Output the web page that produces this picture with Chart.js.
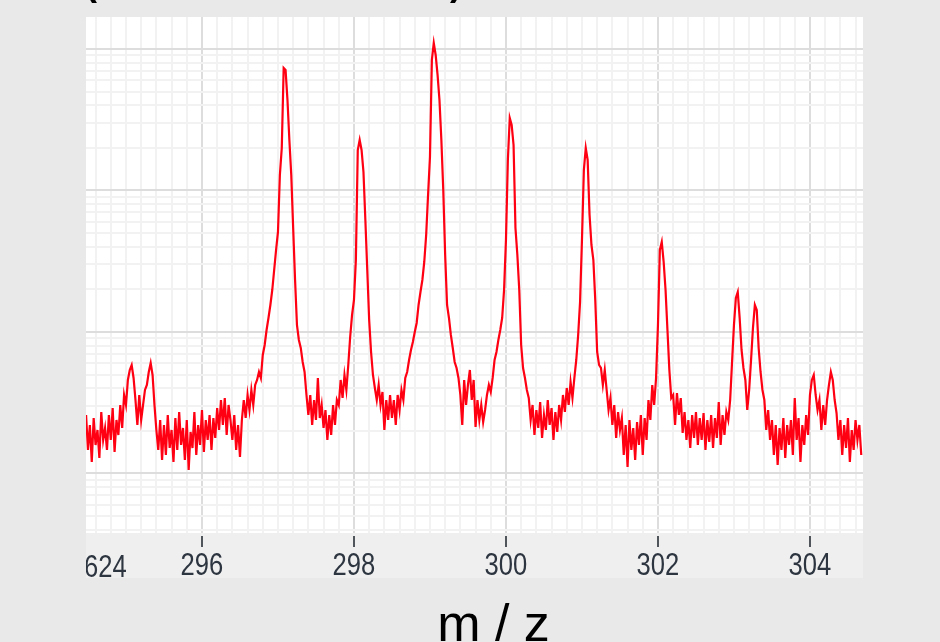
<!DOCTYPE html>
<html><head><meta charset="utf-8">
<script src="https://cdn.jsdelivr.net/npm/chart.js@4.4.1/dist/chart.umd.min.js"></script>
<style>
html,body{margin:0;padding:0;background:#e9e9e9;overflow:hidden}
#wrap{position:relative;width:940px;height:642px}
canvas{display:block}
</style></head>
<body><div id="wrap"><canvas id="c" width="940" height="642"></canvas></div>
<script>
// m/z sampling of the trace
const mzStart = 294.475;
const mzStep = 0.025;
// intensity (counts), one per m/z sample
const intensity = [
2591,1466,2202,1206,2467,1590,2030,1287,2720,1725,
2097,1466,2591,1725,2903,1419,2388,1871,3049,2097,
3588,3049,4580,5389,5846,4731,3307,2202,3588,2388,
3049,3892,4222,5216,6039,4968,3049,2030,1466,2388,
1246,2202,1351,2591,1514,2030,1206,2467,1466,2720,
1590,2097,1246,2388,1059,1965,1514,2720,1351,2202,
1590,2810,1419,2388,1725,2591,1466,2467,1782,2903,
2030,3307,2202,3416,1871,3049,2388,1725,2591,1466,
2202,1308,2388,3307,2467,3588,2810,3892,3049,4222,
4580,5216,4731,6880,8096,10330,12560,15520,19810,27430,
37980,50900,128700,199700,734300,710800,436200,227500,128700,54320,
23310,11200,8782,7710,6138,5216,3588,2591,3588,2202,
3307,2388,4731,2467,3049,2097,2810,1725,2591,1871,
3049,2202,3307,3049,4580,3416,4968,3892,5846,9220,
13200,16840,32280,193300,227500,193300,135100,61880,27430,12160,
7220,4968,4021,3307,4222,3049,3767,2030,3307,2388,
3588,2467,3307,2202,3588,2810,3892,3307,4731,5216,
6342,7463,8500,10000,11580,15520,19170,23310,31240,48480,
92950,172500,836400,1103000,907400,655300,436200,227500,100800,35020,
15520,12560,9527,7710,6138,5567,4731,3588,2202,4580,
3049,4222,5389,3307,4580,2131,3307,2388,3049,2312,
2810,3588,4222,3767,4731,6342,7220,8782,10330,12560,
19810,44690,164300,325400,290400,209700,54320,35020,19810,8096,
5567,4731,3892,3416,2388,3049,1871,2810,2097,3201,
1782,2591,2030,3307,2202,2903,1725,2720,1965,3049,
2388,3588,2720,4021,3049,4433,3416,4731,6342,9527,
16300,44690,139600,199700,164300,67130,41200,32280,16840,7220,
5846,5567,4222,5389,3892,2810,3416,2202,3049,1782,
2720,2030,2467,1351,2202,1112,2388,1466,2097,1246,
2312,1590,2591,1351,2467,1725,3307,2388,4222,3049,
4731,11200,37980,43280,31240,19810,10330,5389,3416,3588,
2202,3707,2591,3416,1933,2720,1725,2388,1514,2591,
1782,2720,1590,2467,1725,2676,1466,2388,1670,2591,
1514,2467,1782,3201,1590,2591,1871,2720,2388,3307,
6138,11200,17400,19170,12560,7463,5567,4580,2810,3892,
6342,10670,15520,14300,7710,5216,3892,3307,2030,2810,
1725,2388,1351,2202,1148,2097,1466,2467,1287,2202,
1590,2388,1351,3416,1725,2467,1206,2202,1590,2591,
1871,3588,4580,4968,3588,2810,3307,2030,3049,2202,
3307,4222,5216,4580,3307,2676,1725,2388,1351,2202,
1514,2467,1206,2030,1466,2388,1725,2202,1351
];
// axes
const xMin = 294.474, xMax = 304.698;
const yMin = 379.7, yMax = 1683000;
const xMajorTicks = [296, 298, 300, 302, 304];
const xTickLabels = ['296', '298', '300', '302', '304'];
const xMinorStep = 0.2;
const yDecades = [100, 1000, 10000, 100000, 1000000];
const xTitle = 'm / z';
const cutTickLabel = '624';
const cutTitleParts = ['(', ')'];

const points = intensity.map((v, i) => ({ x: mzStart + i * mzStep, y: v }));

const isMajorX = v => xMajorTicks.some(m => Math.abs(m - v) < 1e-6);
const isDecade = v => yDecades.some(d => Math.abs(d - v) / d < 1e-6);
const labelFont = "'Liberation Sans', Arial, sans-serif";
const labelSqueeze = 0.8;
const labelColor = '#2d3540';

const decor = {
  id: 'decor',
  beforeDraw(chart) {
    const { ctx, chartArea: a } = chart;
    const xs = chart.scales.x;
    if (!xs._squeezed) {
      const orig = xs.drawLabels.bind(xs);
      xs.drawLabels = function (area) {
        const c = this.ctx;
        const ft = c.fillText;
        c.fillText = function (t, x, y) {
          this.save(); this.translate(x, y); this.scale(labelSqueeze, 1);
          ft.call(this, t, 0, 0); this.restore();
        };
        try { orig(area); } finally { delete c.fillText; }
      };
      xs._squeezed = true;
    }
    ctx.save();
    ctx.fillStyle = '#e9e9e9';
    ctx.fillRect(0, 0, chart.width, chart.height);
    ctx.fillStyle = '#ffffff';
    ctx.fillRect(a.left, a.top, a.right - a.left, a.bottom - a.top);
    ctx.fillStyle = '#efefef';
    ctx.fillRect(a.left, a.bottom, a.right - a.left, 45);
    ctx.restore();
  },
  afterDraw(chart) {
    const { ctx, chartArea: a } = chart;
    const xs = chart.scales.x;
    ctx.save();
    // tick marks
    ctx.fillStyle = '#50555c';
    xMajorTicks.forEach(v => {
      const px = Math.round(xs.getPixelForValue(v));
      ctx.fillRect(px - 1, a.bottom + 3, 2, 11);
    });
    // clipped left label
    ctx.save();
    ctx.beginPath();
    ctx.rect(a.left, a.bottom, 60, 45);
    ctx.clip();
    ctx.fillStyle = labelColor;
    ctx.font = "32px " + labelFont;
    ctx.textAlign = 'left';
    ctx.textBaseline = 'alphabetic';
    ctx.translate(a.left - 2, a.bottom + 44);
    ctx.scale(labelSqueeze, 1);
    ctx.fillText(cutTickLabel, 0, 0);
    ctx.restore();
    // axis title
    ctx.fillStyle = '#000';
    ctx.font = "52px 'Liberation Sans', Arial, sans-serif";
    ctx.textAlign = 'center';
    ctx.textBaseline = 'alphabetic';
    ctx.fillText(xTitle, 493.5, 641);
    // cut-off header glyphs
    ctx.font = "bold 36px 'Liberation Sans', Arial, sans-serif";
    ctx.textAlign = 'left';
    ctx.fillText(cutTitleParts[0], 85, -5);
    ctx.fillText(cutTitleParts[1], 450, -5);
    ctx.restore();
  }
};

new Chart(document.getElementById('c'), {
  type: 'line',
  data: {
    datasets: [{
      data: points,
      borderColor: 'rgb(255,0,18)',
      borderWidth: 2.2,
      pointRadius: 0,
      tension: 0,
      fill: false
    }]
  },
  options: {
    responsive: false,
    devicePixelRatio: 1,
    animation: false,
    events: [],
    layout: { padding: { left: 86, right: 77, top: 17, bottom: 0 } },
    plugins: { legend: { display: false }, tooltip: { enabled: false } },
    scales: {
      x: {
        type: 'linear',
        min: xMin, max: xMax,
        afterBuildTicks: s => {
          const t = [];
          for (let v = Math.ceil(xMin / xMinorStep) * xMinorStep; v <= xMax + 1e-9; v += xMinorStep) {
            t.push({ value: Math.round(v * 1000) / 1000 });
          }
          s.ticks = t;
        },
        afterFit: s => { s.height = 109; },
        border: { display: false },
        grid: {
          drawTicks: false,
          lineWidth: 2,
          color: c => (c.tick && isMajorX(c.tick.value)) ? '#dddddd' : '#f2f2f2'
        },
        ticks: {
          autoSkip: false, maxRotation: 0, minRotation: 0,
          padding: 17,
          color: labelColor,
          font: { family: labelFont, size: 32, lineHeight: 1 },
          callback: v => {
            const k = xMajorTicks.findIndex(m => Math.abs(m - v) < 1e-6);
            return k >= 0 ? xTickLabels[k] : '';
          }
        }
      },
      y: {
        type: 'logarithmic',
        min: yMin, max: yMax,
        afterBuildTicks: s => {
          const t = [];
          yDecades.forEach(d => {
            for (let k = 1; k <= 9; k++) {
              const v = d * k;
              if (v >= yMin && v <= yMax) t.push({ value: v });
            }
          });
          s.ticks = t;
        },
        afterFit: s => { s.width = 0; },
        border: { display: false },
        grid: {
          drawTicks: false,
          lineWidth: 2,
          color: c => (c.tick && isDecade(c.tick.value)) ? '#dddddd' : '#f2f2f2'
        },
        ticks: { display: false }
      }
    }
  },
  plugins: [decor]
});
</script>
</body></html>
